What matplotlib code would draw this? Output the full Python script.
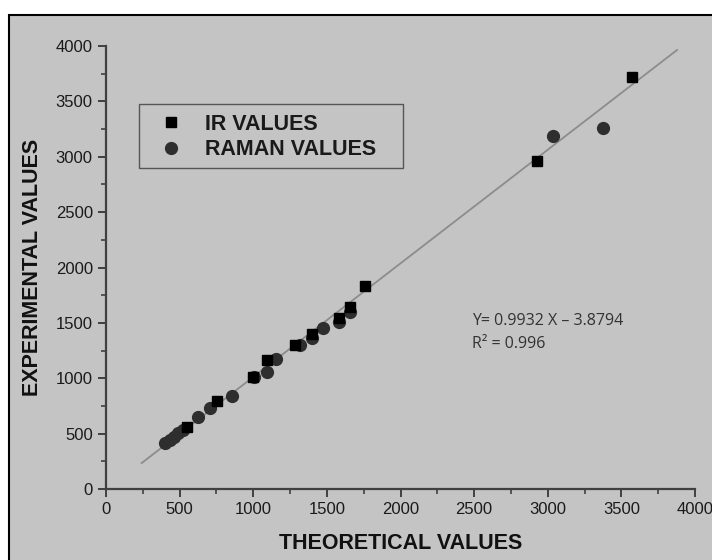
import matplotlib
matplotlib.use("Agg")
import matplotlib.pyplot as plt
from matplotlib.patches import Rectangle
from matplotlib.ticker import MultipleLocator

# ---- data ----
ir_x = [552, 756, 1000, 1091, 1284, 1397, 1582, 1657, 1759, 2925, 3572]
ir_y = [563, 797, 1010, 1165, 1300, 1400, 1547, 1646, 1836, 2962, 3720]

raman_x = [401, 435, 462, 491, 525, 627, 706, 858, 1005, 1091, 1155, 1318,
           1397, 1476, 1582, 1657, 3038, 3373]
raman_y = [412, 442, 472, 503, 533, 653, 729, 840, 1008, 1059, 1174, 1300,
           1360, 1457, 1511, 1601, 3187, 3257]

# fitted line as drawn in the reference (end points)
fit_x = [242, 3878]
fit_y = [234, 3964]

x_label = "THEORETICAL VALUES"
y_label = "EXPERIMENTAL VALUES"
legend_labels = ["IR VALUES", "RAMAN VALUES"]
eq_text = "Y= 0.9932 X \u2013 3.8794"
r2_text = "R\u00b2 = 0.996"

plt.rcParams['font.family'] = ['Liberation Sans', 'DejaVu Sans']

fig = plt.figure(figsize=(7.12, 5.6), dpi=100)
fig.patch.set_facecolor('white')
panel = Rectangle((9/712, -0.02), 1.05, (560-15)/560 + 0.02, transform=fig.transFigure,
                  facecolor='#c4c4c4', edgecolor='black', linewidth=1.5, zorder=-10)
fig.patches.append(panel)

ax = fig.add_axes([106/712, (560-489)/560, (695-106)/712, (489-46)/560])
ax.set_facecolor('none')
ax.set_zorder(5)

ax.plot(fit_x, fit_y, color='#8c8c8c', lw=1.3, zorder=1)

ax.plot(ir_x, ir_y, ls='none', marker='s', ms=7.5, color='black',
        label=legend_labels[0], zorder=3)
ax.plot(raman_x, raman_y, ls='none', marker='o', ms=8.5, color='#2e2e2e',
        label=legend_labels[1], zorder=2)

ax.set_xlim(0, 4000)
ax.set_ylim(0, 4000)
ax.xaxis.set_major_locator(MultipleLocator(500))
ax.xaxis.set_minor_locator(MultipleLocator(250))
ax.yaxis.set_major_locator(MultipleLocator(500))
ax.yaxis.set_minor_locator(MultipleLocator(250))

for s in ['top', 'right']:
    ax.spines[s].set_visible(False)
for s in ['left', 'bottom']:
    ax.spines[s].set_color('#404040')
    ax.spines[s].set_linewidth(1.6)

ax.tick_params(which='major', direction='out', length=6, width=1.4, color='#404040',
               labelsize=12, labelcolor='#1a1a1a')
ax.tick_params(which='minor', direction='out', length=3.5, width=1.2, color='#404040')
ax.tick_params(axis='x', pad=3)

ax.set_xlabel(x_label, fontsize=15.5, fontweight='bold', color='#111111', labelpad=12)
ax.set_ylabel(y_label, fontsize=15.5, fontweight='bold', color='#111111', labelpad=9)

leg = ax.legend(loc='upper left', bbox_to_anchor=(0.056, 0.866), frameon=False,
                prop={'size': 15.5, 'weight': 'bold'}, handlelength=2.2,
                handletextpad=0.45, borderpad=0.4, labelspacing=0.2,
                borderaxespad=0)
for t in leg.get_texts():
    t.set_color('#1a1a1a')
ax.add_patch(Rectangle((0.056, 0.7246), 0.504 - 0.056, 0.869 - 0.7246,
                       transform=ax.transAxes, facecolor='none',
                       edgecolor='#555555', linewidth=1.0, zorder=4))

ax.text(0.622, 0.380, eq_text, transform=ax.transAxes, fontsize=11.5,
        family=['Open Sans', 'DejaVu Sans'], color='#333333', va='center')
ax.text(0.622, 0.328, r2_text, transform=ax.transAxes, fontsize=11.5,
        family=['Open Sans', 'DejaVu Sans'], color='#333333', va='center')

fig.savefig('out.png', dpi=100)
